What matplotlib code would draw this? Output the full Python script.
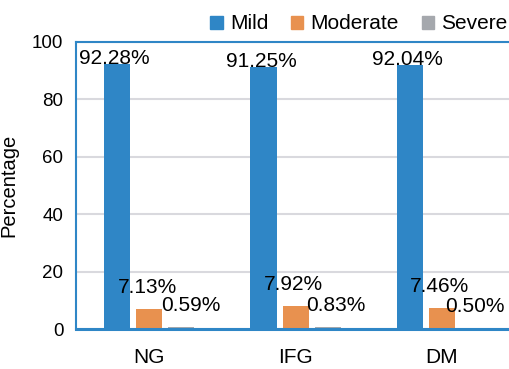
import numpy as np
import matplotlib.pyplot as plt
from matplotlib.patches import Patch

plt.rcParams['font.family'] = ['Liberation Sans', 'DejaVu Sans']

# ── Data ────────────────────────────────────────────────────────────────────
groups = ["NG", "IFG", "DM"]
series = ["Mild", "Moderate", "Severe"]
mild = [92.28, 91.25, 92.04]
moderate = [7.13, 7.92, 7.46]
severe = [0.59, 0.83, 0.50]
yticks = [0, 20, 40, 60, 80, 100]

colors = ["#2F86C6", "#E8914F", "#A5A8AD"]
spine_col = "#2F86C6"

# ── Figure ──────────────────────────────────────────────────────────────────
fig = plt.figure(figsize=(5.10, 3.69), dpi=100)
ax = fig.add_axes([0.149, 0.1084, 0.861, 0.7778])

x = np.arange(len(groups))
width = 0.178
step = 0.219
# label offsets (points): mild labels sit inside the plot top, others above bars
label_dy = [0, 11.5, 11.5]
label_dx = [[-2, -1.5, -1.5], [-1.5, -1.5, -1.5], [7, 6, 0.5]]

for i, (name, vals) in enumerate(zip(series, [mild, moderate, severe])):
    pos = x + (i - 1) * step
    ax.bar(pos, vals, width, color=colors[i], label=name, zorder=3)
    for j, (px, v) in enumerate(zip(pos, vals)):
        ax.annotate(f"{v:.2f}%", (px, v), xytext=(label_dx[i][j], label_dy[i]),
                    textcoords="offset points", ha="center", va="baseline",
                    fontsize=15, color="black", zorder=4)

ax.set_xlim(-0.5, 2.5)
ax.set_ylim(0, 100)
ax.set_yticks(yticks)
ax.set_xticks(x)
ax.set_xticklabels(groups, fontsize=15)
ax.tick_params(axis="y", labelsize=13.5, length=0, pad=9)
ax.tick_params(axis="x", length=0, pad=13.5)
ax.yaxis.grid(True, color="#D9D9DE", linewidth=1.5, zorder=0)
ax.set_axisbelow(True)
for s in ax.spines.values():
    s.set_color(spine_col)
    s.set_linewidth(1.5)
    s.set_zorder(5)
ax.spines["bottom"].set_linewidth(2.2)
ax.set_ylabel("Percentage", fontsize=14.5, labelpad=10)

handles = [Patch(color=c, label=n) for c, n in zip(colors, series)]
fig.legend(handles=handles, loc="center right", bbox_to_anchor=(0.995, 0.935),
           ncol=3, frameon=False, fontsize=15, borderpad=0, borderaxespad=0,
           handlelength=0.58, handleheight=0.58, handletextpad=0.35,
           columnspacing=1.1)

fig.savefig("out.png", dpi=100)
